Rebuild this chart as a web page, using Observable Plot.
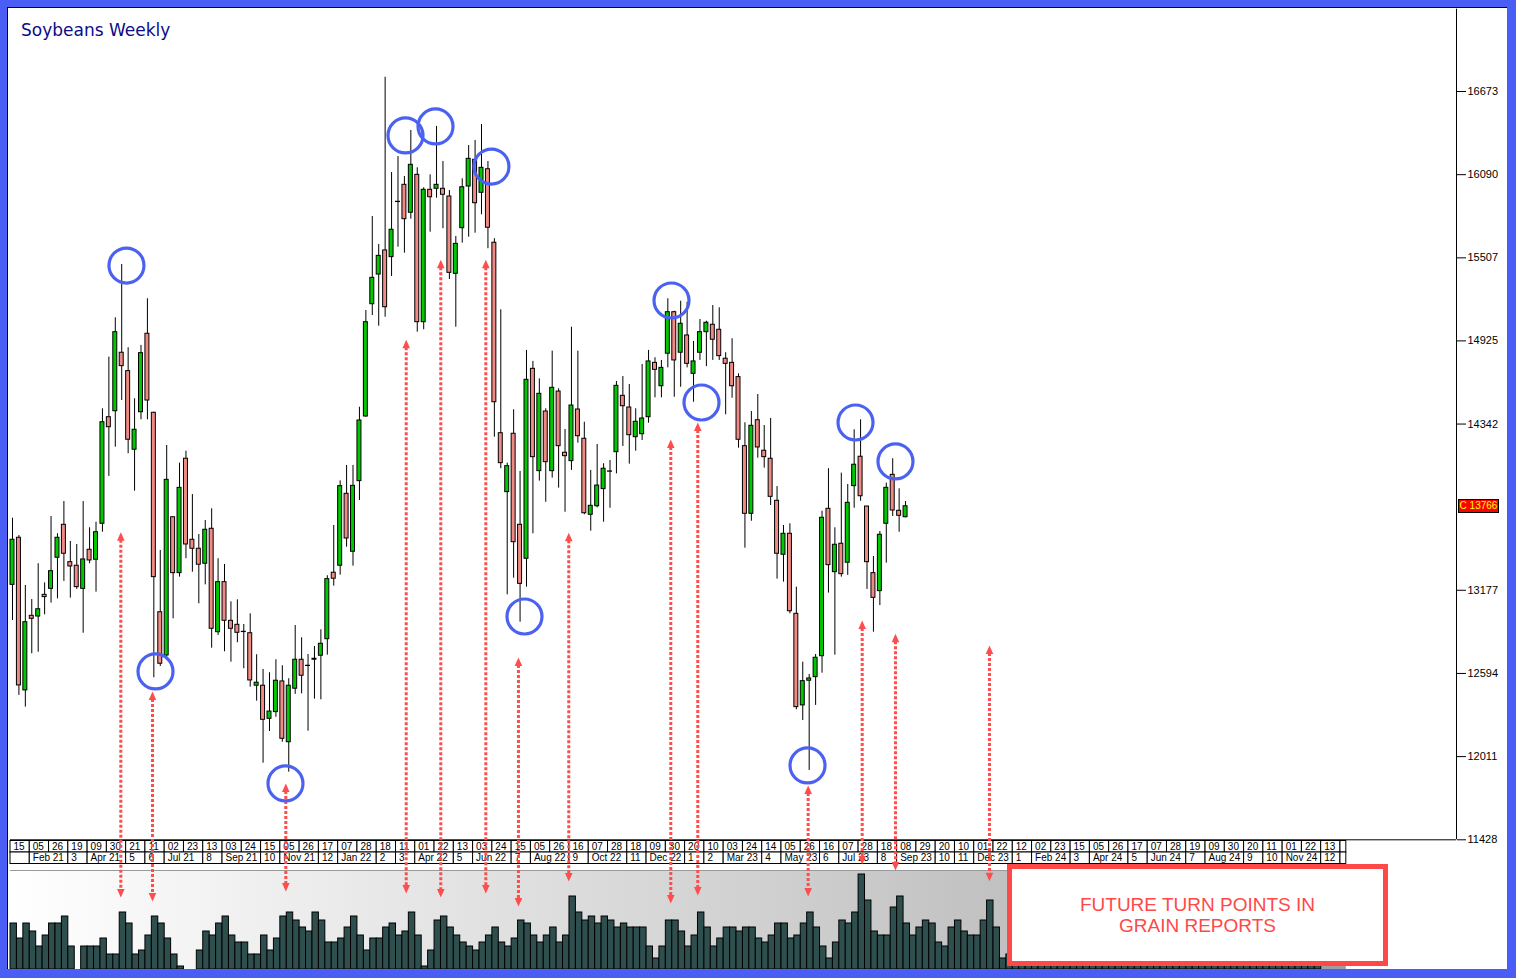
<!DOCTYPE html>
<html><head><meta charset="utf-8">
<script src="https://cdn.jsdelivr.net/npm/d3@7"></script>
<script src="https://cdn.jsdelivr.net/npm/@observablehq/plot@0.6"></script>
<style>
html,body{margin:0;padding:0;}
body{width:1516px;height:978px;background:#4a5ef6;position:relative;overflow:hidden;font-family:"DejaVu Sans",sans-serif;}
#panel{position:absolute;left:7px;top:7px;width:1500px;height:962px;background:#fff;border-top:1px solid #000;border-left:1px solid #000;box-sizing:border-box;}
#title{position:absolute;left:21px;top:22px;font-size:17px;line-height:17px;color:#0b0b8a;z-index:5;}
.layer{position:absolute;left:0;}
#hist{top:869px;z-index:2;}
#dates{top:840px;z-index:3;}
#main{top:0;z-index:4;pointer-events:none;}
#main svg{overflow:visible;}
#clabel{position:absolute;left:1458px;width:41px;height:14px;background:#ff0000;border:1px solid #000;box-sizing:border-box;color:#ffff00;font:10px "Liberation Sans Narrow","Liberation Sans",sans-serif;line-height:12px;text-align:center;z-index:6;}
#note{position:absolute;left:1007px;top:864px;width:381px;height:102px;border:5px solid #ff4848;background:#fff;box-sizing:border-box;z-index:7;display:flex;align-items:center;justify-content:center;text-align:center;color:#ff4848;font:19px/21px "Liberation Sans",Arial,sans-serif;}
</style></head>
<body>
<svg width="0" height="0" style="position:absolute"><defs><linearGradient id="hg" x1="0" x2="1" y1="0" y2="0"><stop offset="0" stop-color="#ffffff"/><stop offset="1" stop-color="#adadad"/></linearGradient></defs></svg>
<div id="panel"></div>
<div id="title">Soybeans Weekly</div>
<div id="hist" class="layer"></div>
<div id="dates" class="layer"></div>
<div id="main" class="layer"></div>
<div id="clabel">C 13766</div>
<div id="note">FUTURE TURN POINTS IN<br>GRAIN REPORTS</div>
<script>
// ---------- DATA (weekly candles, week 0 = 15 Jan 2021) ----------
const opens = [13215,13545,12475,12998,12993,13145,13187,13405,13636,13374,13349,13187,13461,13391,13643,14390,14432,14842,14713,14162,14425,14975,14421,13023,12720,13689,13297,14099,13531,13468,13363,13608,12883,13234,12963,12935,12886,12876,12508,12508,12276,12323,12538,12112,12487,12690,12648,12690,12718,12834,13300,13349,13853,13447,13942,14395,15182,15390,15559,15512,15900,16019,15823,16089,15056,15984,15991,15991,15937,15395,15715,16007,16194,15963,16128,15613,14278,13865,14274,13636,13398,14729,14012,14430,14012,14570,14141,14082,14444,14239,13706,13766,13886,14008,14145,14540,14458,14250,14271,14390,14771,14607,14835,15126,14842,14963,14694,14842,14986,15038,15003,14800,14771,14671,14187,13713,14369,14155,14099,13804,13426,13573,13012,12370,12543,12568,12715,13748,13304,13503,13370,13907,14113,13764,13297,13171,13643,13986,13734,13689];
const highs = [13682,13561,13211,13112,13363,13229,13694,13573,13799,13519,13498,13799,13615,13654,14449,14811,15087,15460,14877,14519,14893,15220,14425,13456,14192,13689,14068,14152,13848,13568,13666,13748,13398,13358,13096,13110,12937,13012,12725,12622,12599,12690,12648,12557,12930,12844,12727,12783,12900,13279,13631,13944,14052,14052,14460,15138,15797,15601,16773,16105,16217,16077,16400,16138,15998,16089,16428,16182,15979,15657,16061,16294,16330,16442,16182,15641,15143,14068,14442,14010,14858,14781,14659,14449,14853,14589,14304,15021,14853,14355,14017,14199,14064,14087,14640,14675,14619,14449,14760,14858,14807,14788,15220,15133,15203,15196,14921,15075,15063,15173,15157,14842,14940,14694,14351,14430,14549,14332,14381,13904,13631,13643,13199,12673,12587,12727,13731,14029,13615,13998,13918,14302,14372,13764,13414,13589,13928,14099,13888,13799];
const lows = [12965,12440,12358,12732,12743,13005,13087,13117,13239,13122,13183,12876,13363,13164,13584,13975,14180,14507,14134,13872,14372,14372,12564,12643,12690,12977,13269,13398,13304,13082,13215,12771,12860,12746,12673,12809,12627,12498,12400,11965,12187,12287,12112,11902,12447,12451,12189,12414,12409,12722,13206,13283,13479,13346,13806,14390,15103,15028,15091,15376,15582,15540,15778,14986,15003,15687,15925,15711,15355,15021,15610,15652,15680,15809,15571,14250,14029,13145,13262,12953,13199,13573,13942,13794,13963,13893,13724,14017,14208,13706,13591,13755,13654,13752,13993,14185,14061,14152,14227,14348,14526,14526,14736,14530,14600,14736,14495,14788,14745,14788,14788,14407,14523,14173,13472,13661,14103,14033,13771,13255,13234,13012,12339,12264,11914,12370,12596,13157,12722,13269,13281,13752,13801,13183,12883,13070,13367,13694,13584,13685];
const closes = [13531,12510,12953,12977,13044,13129,13311,13545,13433,13344,13199,13393,13386,13584,14355,14320,14986,14748,14232,14302,14839,14507,13269,12662,13951,13297,13895,13498,13468,13356,13601,12907,13234,12963,12907,12879,12884,12545,12529,12269,12327,12543,12136,12508,12690,12578,12646,12697,12802,13255,13258,13907,13540,13909,14367,15056,15367,15521,15161,15704,15898,15778,16159,15056,15984,15932,16019,15949,15402,15605,16002,16201,15890,16138,15718,14495,14068,14047,13514,13222,14652,14110,14554,14075,14596,14187,14117,14472,14257,13717,13769,13911,14029,14010,14610,14467,14264,14358,14381,14781,14722,14736,15126,14788,15045,14764,14781,14986,15052,14933,14818,14764,14607,14232,13713,14330,14178,14110,13832,13433,13573,13030,12358,12540,12559,12704,13685,13353,13496,13290,13790,14057,13836,13374,13124,13566,13895,13736,13699,13766];

// right axis tick labels
const yTicks = [11428,12011,12594,13177,14342,14925,15507,16090,16673];
const lastClose = 13766;

// blue turn circles: week position, price
const circleWeek  = [17.74,22.26,42.49,61.17,65.84,74.55,79.69,102.57,107.24,123.74,131.21,137.43];
const circlePrice = [15453,12608,11823,16365,16428,16147,12993,15208,14493,11949,14353,14080];

// red dotted turn-point arrows: week position, upper tip price, lower tip price
const arrowWeek   = [16.86,21.79,42.54,61.28,66.66,73.67,78.75,86.58,102.46,106.66,123.84,132.25,137.43,152.06];
const arrowTop    = [13584,12468,11823,14933,15493,15493,12706,13580,14234,14353,11809,12965,12872,12790];
const arrowBottom = [11024,10996,11066,11052,11024,11052,10961,11136,10982,11038,11031,11255,11213,11138];

// date axis (one cell = 3 weeks)
const topLabels = ["15","05","26","19","09","30","21","11","02","23","13","03","24","15","05","26","17","07","28","18","11","01","22","13","03","24","15","05","26","16","07","28","18","09","30","20","10","03","24","14","05","26","16","07","28","18","08","29","20","10","01","22","12","02","23","15","05","26","17","07","28","19","09","30","20","11","01","22","13"];
const bottomLabels = ["","Feb 21","3","Apr 21","5","6","Jul 21","8","Sep 21","10","Nov 21","12","Jan 22","2","3","Apr 22","5","Jun 22","7","Aug 22","9","Oct 22","11","Dec 22","1","2","Mar 23","4","May 23","6","Jul 23","8","Sep 23","10","11","Dec 23","1","Feb 24","3","Apr 24","5","Jun 24","7","Aug 24","9","10","Nov 24","12"];
const bottomSpans = [1,2,1,2,1,1,2,1,2,1,2,1,2,1,1,2,1,2,1,2,1,2,1,2,1,1,2,1,2,1,2,1,2,1,1,2,1,2,1,2,1,2,1,2,1,1,2,1];

// bottom cycle histogram (bar height per week)
const histValues = [46,31,46,38,23,34,46,46,53,23, 0,23,23,23,31,15,15,57,46,15, 19,34,53,46,31,15,3,0,0,19, 38,34,46,53,34,27,27,15,15,34, 19,31,53,57,49,42,38,57,49,27, 27,31,42,53,34,19,31,31,42,46, 34,38,57,34,3,19,49,53,42,34, 27,23,19,27,34,42,27,23,31,49, 46,34,27,34,42,27,34,73,57,49, 53,46,53,49,42,46,42,42,42,23, 11,23,49,49,38,23,34,57,42,23, 31,42,42,38,42,42,31, 27,34,46,46,31,34,46,57,42,23, 11,27,49,46,57,95,69,38,34,34, 62,73,46,34,42,49,46,27,23,42, 49,38,34,34,49,69,42,11,15, 12,12,12,12,12,12,12,12,12,12,12,12,12,12,12,12,12,12,12,12,12,12,12,12,12,12,12,12,12,12,12,12,12,12,12,12,12,12,12,12,12,12,12,12,12,12,12,12];

// ---------- build ----------
const GREEN = "#00c800", PINK = "#f08a84", RED = "#ff4d4d", CBLUE = "#4b62f0";
const FONT = "'Liberation Sans Narrow','Liberation Sans',sans-serif";
const X = {domain: [-0.31, 224.75], range: [10, 1456]};

const candles = opens.map((o, i) => ({i, open: o, high: highs[i], low: lows[i], close: closes[i]}));
const circles = circleWeek.map((w, k) => ({w, p: circlePrice[k]}));
const arrows = arrowWeek.map((w, k) => ({w, top: arrowTop[k], bottom: arrowBottom[k]}));

const upTri = {draw(ctx) { ctx.moveTo(0, 0); ctx.lineTo(3.8, 8.5); ctx.lineTo(-3.8, 8.5); ctx.closePath(); }};
const downTri = {draw(ctx) { ctx.moveTo(0, 0); ctx.lineTo(3.8, -8.5); ctx.lineTo(-3.8, -8.5); ctx.closePath(); }};

const main = Plot.plot({
  width: 1516, height: 978,
  marginLeft: 10, marginRight: 60, marginTop: 9, marginBottom: 139,
  x: {...X, axis: null},
  y: {domain: [11428, 16673], range: [839.3, 91], label: null},
  color: {type: "identity"},
  style: {background: "transparent", overflow: "visible", fontFamily: FONT},
  marks: [
    Plot.ruleY([11428], {x1: -0.31, x2: 224.75, stroke: "#000"}),
    Plot.ruleX([224.75], {y1: 11428, y2: 17250, stroke: "#000"}),
    Plot.axisY(yTicks, {anchor: "right", tickSize: 9, tickPadding: 2, tickFormat: d => String(d), fontSize: 11, label: null, fill: "#000"}),
    Plot.ruleX(candles, {x: "i", y1: "low", y2: "high", stroke: "#000", strokeWidth: 1}),
    Plot.rect(candles, {x1: d => d.i - 0.31, x2: d => d.i + 0.31, y1: "open", y2: "close",
      fill: d => d.close >= d.open ? GREEN : PINK, stroke: "#000", strokeWidth: 1}),
    Plot.ruleX(arrows, {x: "w", y1: "top", y2: "bottom", insetTop: 8, insetBottom: 8, stroke: RED, strokeWidth: 3, strokeDasharray: "3,2"}),
    Plot.dot(arrows, {x: "w", y: "top", symbol: upTri, fill: RED, r: 4}),
    Plot.dot(arrows, {x: "w", y: "bottom", symbol: downTri, fill: RED, r: 4}),
    Plot.dot(circles, {x: "w", y: "p", r: 17.5, stroke: CBLUE, strokeWidth: 3.2, fill: "none"})
  ]
});
document.getElementById("main").appendChild(main);
const yPix = main.scale("y").apply(lastClose);
document.getElementById("clabel").style.top = (yPix - 7) + "px";

// date axis
const topCells = topLabels.map((t, k) => ({x1: 3 * k - 0.31, x2: 3 * k + 2.69, t}));
topCells.push({x1: 3 * 69 - 0.31, x2: 207.6, t: ""});
let acc = 0;
const botCells = bottomLabels.map((t, k) => { const c = {x1: 3 * acc - 0.31, x2: 3 * (acc + bottomSpans[k]) - 0.31, t}; acc += bottomSpans[k]; return c; });
botCells.push({x1: 3 * 69 - 0.31, x2: 207.6, t: ""});
const dates = Plot.plot({
  width: 1516, height: 25, margin: 0,
  x: {...X, axis: null},
  y: {domain: [0, 2], range: [0.5, 23.5], axis: null},
  style: {background: "transparent", fontFamily: FONT},
  marks: [
    Plot.rect(topCells, {x1: "x1", x2: "x2", y1: 0, y2: 1, fill: "#fff", stroke: "#000"}),
    Plot.rect(botCells, {x1: "x1", x2: "x2", y1: 1, y2: 2, fill: "#fff", stroke: "#000"}),
    Plot.text(topCells, {x: "x1", y: 0.5, text: "t", textAnchor: "start", dx: 3, fontSize: 10, fill: "#000"}),
    Plot.text(botCells, {x: "x1", y: 1.5, text: "t", textAnchor: "start", dx: 3, fontSize: 10, fill: "#000"})
  ]
});
document.getElementById("dates").appendChild(dates);

// histogram
const hist = histValues.map((v, i) => ({i, v}));
const histPlot = Plot.plot({
  width: 1516, height: 100, margin: 0,
  x: {...X, axis: null},
  y: {domain: [0, 100], range: [100, 0], axis: null},
  style: {background: "transparent"},
  marks: [
    Plot.rect([{}], {x1: -0.31, x2: 203.69, y1: 0, y2: 99, fill: "url(#hg)"}),
    Plot.rect([{}], {x1: 203.69, x2: 207.6, y1: 0, y2: 99, fill: "#9e9e9e"}),
    Plot.ruleY([99], {x1: -0.31, x2: 207.6, stroke: "#9a9a9a"}),
    Plot.rect(hist, {x1: d => d.i - 0.31, x2: d => d.i + 0.69, y1: 0, y2: "v", fill: "#2f4f4f", stroke: "#000", strokeWidth: 1})
  ]
});
document.getElementById("hist").appendChild(histPlot);
</script>
</body></html>
